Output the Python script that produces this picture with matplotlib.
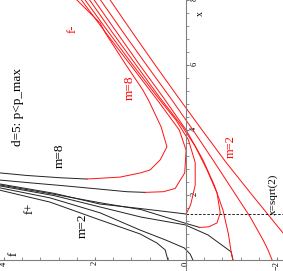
import numpy as np
import matplotlib.pyplot as plt

# curves as (x, f) pairs, one list per m
# f+ branches (black)
fp = {
    8: [(2.68, 4.1), (2.6, 3.5), (2.53, 2.77), (2.49, 2.18)],
    7: [(2.46, 4.1), (2.37, 3.4), (2.28, 2.66), (2.18, 1.9), (2.1, 1.3), (2.08, 0.9)],
    6: [(2.34, 4.1), (2.05, 2.9), (1.72, 1.89), (1.58, 0.99), (1.414, 0.0)],
    5: [(2.31, 4.1), (2.02, 2.9), (1.76, 1.89), (1.55, 0.99), (1.14, 0.04), (1.0, -0.3)],
    4: [(2.28, 4.1), (1.98, 2.9), (1.63, 1.89), (1.32, 0.99), (1.08, 0.02), (0.77, -0.48),
        (0.25, -0.99), (0.0, -1.03)],
    3: [(2.22, 4.1), (1.91, 2.99), (1.45, 1.89), (0.92, 1.01), (0.62, 0.46), (0.37, 0.04),
        (0.18, -0.09), (0.0, -0.15)],
    2: [(2.15, 4.1), (1.78, 2.99), (1.23, 1.89), (0.8, 1.01), (0.52, 0.64), (0.31, 0.46),
        (0.0, 0.4)],
}
# f- branches (red)
fm = {
    8: [(2.49, 2.18), (2.55, 1.45), (2.68, 1.0), (2.77, 0.79), (3.08, 0.57), (3.48, 0.42),
        (4.1, 0.55), (4.9, 0.82), (5.23, 0.95), (6.0, 1.32), (7.0, 1.78), (7.29, 1.89),
        (8.0, 2.4)],
    7: [(2.08, 0.9), (2.1, 0.5), (2.2, 0.24), (2.68, 0.03), (3.38, 0.0), (4.0, 0.15),
        (4.9, 0.62), (6.0, 1.22), (7.0, 1.77), (8.0, 2.3)],
    6: [(1.414, 0.0), (1.7, -0.1), (2.3, -0.2), (3.0, -0.2), (3.7, -0.05), (4.3, 0.22),
        (5.0, 0.62), (6.0, 1.17), (7.0, 1.7), (8.0, 2.22)],
    5: [(1.0, -0.3), (1.02, -0.5), (1.14, -0.68), (1.45, -0.75), (2.06, -0.68), (2.77, -0.46),
        (3.5, -0.2), (4.1, 0.08), (5.0, 0.58), (6.0, 1.1), (7.0, 1.62), (8.0, 2.12)],
    4: [(0.0, -1.03), (0.25, -0.99), (0.8, -0.93), (1.54, -0.81), (2.3, -0.62), (3.08, -0.37),
        (4.0, 0.0), (5.0, 0.5), (6.0, 1.02), (7.0, 1.52), (8.0, 2.02)],
    3: [(0.0, -1.89), (0.31, -1.8), (0.62, -1.69), (1.32, -1.41), (2.2, -1.0), (3.1, -0.58),
        (4.0, -0.15), (5.0, 0.35), (6.0, 0.87), (7.0, 1.38), (8.0, 1.88)],
    2: [(0.83, -2.13), (2.0, -1.45), (3.0, -0.88), (4.0, -0.35), (5.0, 0.17), (6.0, 0.68),
        (7.0, 1.18), (8.0, 1.67)],
}

plt.rcParams['font.family'] = ['Liberation Serif', 'DejaVu Serif']

fig = plt.figure(figsize=(2.83, 2.71), dpi=100)
ax = fig.add_axes([0, 0, 1, 1])

# the chart is drawn turned a quarter turn: f runs right to left, x runs upward
for m in fp:
    x, f = np.array(fp[m]).T
    ax.plot(f, x, color='#222222', lw=0.7)
for m in fm:
    x, f = np.array(fm[m]).T
    ax.plot(f, x, color='#ff1010', lw=0.7)

ax.plot([0, -2.13], [np.sqrt(2), np.sqrt(2)], color='black', ls=(0, (3, 2)), lw=0.6)

ax.set_xlim(4.09, -2.13)
ax.set_ylim(-0.34, 8.0)
for s in ['top', 'left']:
    ax.spines[s].set_visible(False)
ax.spines['bottom'].set_position(('data', 0))
ax.spines['right'].set_position(('data', 0))
for s in ['bottom', 'right']:
    ax.spines[s].set_color('#808080')
    ax.spines[s].set_linewidth(0.8)
ax.yaxis.tick_right()
ax.set_xticks([4, 2, 0, -2])
ax.set_yticks([2, 4, 6, 8])
ax.set_xticks(np.arange(-2, 4.01, 0.4), minor=True)
ax.set_yticks(np.arange(0, 8.01, 0.4), minor=True)
ax.tick_params(axis='x', which='both', direction='in', length=2, labelsize=6,
               labelrotation=90, pad=1, color='#808080')
ax.tick_params(axis='y', which='both', direction='out', length=2, labelsize=6,
               labelrotation=90, pad=1, color='#808080')

ax.text(-0.31, 7.57, 'x', rotation=90, fontsize=7, ha='center', va='center')
ax.text(3.7, 4.7, 'd=5: p<p_max', rotation=90, fontsize=9.5, ha='center', va='center')
ax.text(2.5, 7.1, 'f-', rotation=90, fontsize=9, color='red', ha='center', va='center')
ax.text(1.23, 5.3, 'm=8', rotation=90, fontsize=9.5, color='red', ha='center', va='center')
ax.text(2.77, 3.2, 'm=8', rotation=90, fontsize=9.5, ha='center', va='center')
ax.text(3.43, 1.6, 'f+', rotation=90, fontsize=9, ha='center', va='center')
ax.text(2.26, 1.05, 'm=2', rotation=90, fontsize=9.5, ha='center', va='center')
ax.text(3.78, 0.2, 'f', rotation=90, fontsize=9, ha='center', va='center')
ax.text(-0.98, 3.48, 'm=2', rotation=90, fontsize=9, color='red', ha='center', va='center')
ax.text(-1.92, 2.03, 'x=sqrt(2)', rotation=90, fontsize=8, ha='center', va='center')

fig.savefig('out.png', dpi=100)
